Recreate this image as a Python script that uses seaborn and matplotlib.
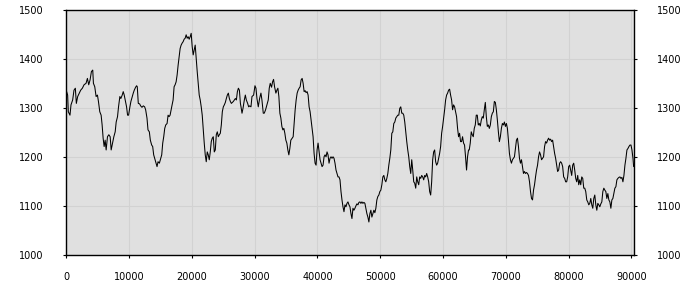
import matplotlib
matplotlib.use("Agg")
import matplotlib.pyplot as plt
import seaborn as sns
import pandas as pd

# ---- data ----
x_seg1 = [53, 213, 320, 587, 747, 1013, 1227, 1440, 1600, 1813, 2080, 2293, 2560, 2827, 3147, 3360, 3573, 3787, 4000, 4213,
          4320, 4533, 4747, 4960, 5120, 5333, 5547, 5707, 5867, 6027, 6187, 6347, 6560, 6773, 6987, 7147, 7360, 7573, 7787, 7947,
          8160, 8320, 8533, 8693, 8907, 9067, 9227, 9387, 9600, 9760, 9920, 10133, 10293, 10507, 10667, 10827, 11040, 11200, 11307, 11467,
          11680, 11840, 12053, 12267, 12480, 12640, 12853, 13013, 13227, 13387, 13600, 13760, 13920, 14080, 14293, 14453, 14613, 14827, 14987, 15200,
          15360, 15520, 15680, 15840, 16053, 16213, 16373, 16533, 16693, 16853, 17013, 17173, 17333, 17493, 17653, 17813, 17973, 18133, 18293, 18453,
          18613, 18773, 18933, 19093, 19253, 19413, 19573, 19733, 19893, 20053, 20213, 20373, 20533, 20693, 20853, 21013, 21173, 21333, 21493, 21653,
          21813, 21973, 22133, 22293, 22453, 22613, 22773, 22933, 23093, 23253, 23413, 23573, 23733, 23893, 24053, 24213, 24373, 24533, 24693, 24853,
          25013, 25173, 25333, 25493, 25653, 25813, 25973, 26133, 26293, 26453, 26613, 26773, 26933, 27093, 27253, 27413, 27573, 27733]
y_seg1 = [1334, 1327, 1293, 1286, 1307, 1317, 1337, 1341, 1310, 1324, 1331, 1337, 1341, 1348, 1351, 1361, 1348, 1358, 1375, 1378,
          1351, 1344, 1324, 1327, 1314, 1293, 1286, 1266, 1239, 1222, 1235, 1215, 1242, 1246, 1242, 1215, 1229, 1242, 1252, 1272,
          1283, 1303, 1324, 1320, 1327, 1334, 1327, 1317, 1303, 1286, 1286, 1303, 1314, 1324, 1331, 1337, 1343, 1346, 1344, 1310,
          1309, 1305, 1302, 1305, 1303, 1297, 1280, 1256, 1252, 1235, 1225, 1222, 1205, 1198, 1188, 1181, 1191, 1188, 1195, 1205,
          1229, 1242, 1259, 1266, 1269, 1286, 1283, 1286, 1297, 1307, 1317, 1344, 1348, 1354, 1368, 1388, 1405, 1422, 1429, 1433,
          1436, 1441, 1443, 1450, 1443, 1446, 1441, 1446, 1453, 1426, 1409, 1419, 1429, 1402, 1375, 1351, 1327, 1317, 1303, 1286,
          1256, 1229, 1205, 1191, 1211, 1205, 1195, 1211, 1232, 1239, 1242, 1211, 1215, 1246, 1252, 1242, 1246, 1249, 1266, 1293,
          1303, 1307, 1312, 1320, 1327, 1331, 1320, 1314, 1310, 1312, 1314, 1317, 1320, 1317, 1334, 1341, 1337, 1310]

x_seg2 = [27831, 27989, 28148, 28360, 28519, 28677, 28889, 29048, 29206, 29418,
          29577, 29841, 30053, 30212, 30370, 30582, 30794, 31005, 31164, 31376,
          31534, 31746, 31958, 32169, 32328, 32487, 32698, 32857, 33016, 33175,
          33386, 33545, 33704, 33862,
          34021, 34180, 34338, 34497, 34656, 34815, 34973, 35132, 35291, 35450, 35608, 35767,
          35979, 36138, 36297, 36455, 36614, 36773, 36931, 37090, 37249, 37408, 37566, 37725, 37884, 38042, 38201, 38360, 38519, 38677,
          38836, 38995, 39153, 39312, 39471, 39630, 39788, 39947, 40106, 40265, 40423, 40582, 40741, 40899, 41058, 41217, 41376, 41534,
          41693, 41852, 42011, 42169, 42328, 42487, 42645, 42804, 42963, 43122, 43280, 43439, 43598, 43757, 43915, 44074, 44233, 44391,
          44550, 44709, 44868, 45026, 45185, 45344, 45503, 45661, 45820, 45979, 46138, 46296, 46455, 46614, 46772, 46931, 47090, 47249,
          47407, 47566, 47725, 47884, 48042, 48201, 48360, 48519, 48677, 48836, 48995, 49153, 49312, 49471, 49630, 49788, 49947, 50106,
          50265, 50423, 50582, 50741, 50899, 51058, 51217, 51376, 51534, 51693, 51852, 52011, 52169, 52328, 52487, 52645, 52804, 52963,
          53122, 53280, 53439, 53598, 53757, 53915, 54074, 54233, 54392, 54550, 54709, 54868, 55026, 55185, 55344, 55503, 55661, 55820,
          55979, 56138, 56296, 56455, 56614, 56772, 56931, 57090, 57249, 57407, 57566, 57725, 57884, 58042, 58201, 58360, 58519, 58677,
          58836, 58995, 59153, 59312, 59471, 59630, 59788, 59947, 60106, 60265, 60423, 60582, 60741, 60899, 61058, 61217, 61376, 61534,
          61693, 61852, 62011, 62169, 62328, 62487, 62645, 62804, 62963, 63122, 63280, 63439, 63598, 63757, 63915, 64074]
y_seg2 = [1303, 1290, 1300, 1317, 1327, 1317, 1310, 1303, 1305, 1303,
          1324, 1327, 1346, 1341, 1320, 1303, 1320, 1331, 1317, 1290,
          1290, 1297, 1307, 1317, 1341, 1351, 1343, 1354, 1359, 1344,
          1331, 1337, 1341, 1324,
          1290, 1280, 1263, 1256, 1259, 1249, 1235, 1229, 1215, 1205, 1218, 1235,
          1239, 1242, 1269, 1297, 1317, 1331, 1337, 1341, 1344, 1358, 1361, 1351, 1334, 1336, 1332, 1334, 1327, 1303,
          1293, 1276, 1259, 1242, 1208, 1188, 1184, 1215, 1229, 1211, 1195, 1188, 1181, 1184, 1201, 1205, 1201, 1211,
          1205, 1188, 1198, 1201, 1198, 1201, 1198, 1188, 1174, 1167, 1160, 1160, 1154, 1130, 1113, 1099, 1089, 1103,
          1099, 1106, 1109, 1103, 1099, 1085, 1075, 1096, 1092, 1096, 1101, 1105, 1103, 1108, 1109, 1106, 1109, 1106,
          1108, 1106, 1096, 1085, 1078, 1068, 1085, 1092, 1078, 1085, 1092, 1087, 1096, 1113, 1120, 1123, 1130, 1133,
          1144, 1160, 1163, 1154, 1150, 1157, 1167, 1184, 1198, 1215, 1249, 1252, 1269, 1272, 1280, 1283, 1286, 1286,
          1300, 1303, 1290, 1290, 1286, 1272, 1252, 1232, 1215, 1201, 1181, 1167, 1195, 1174, 1150, 1147, 1137, 1160,
          1150, 1144, 1160, 1157, 1163, 1160, 1154, 1163, 1160, 1167, 1160, 1150, 1130, 1123, 1150, 1195, 1211, 1215,
          1191, 1184, 1188, 1198, 1208, 1222, 1249, 1263, 1280, 1297, 1317, 1327, 1331, 1337, 1339, 1327, 1317, 1297,
          1307, 1303, 1293, 1283, 1259, 1242, 1249, 1232, 1232, 1242, 1229, 1225, 1201, 1174, 1201, 1215]

x_seg3 = [64187, 64347, 64507, 64667, 64827, 64987, 65147, 65307, 65467, 65627, 65787, 65947, 66107, 66267, 66427, 66587, 66747, 66907,
          67067, 67227, 67387, 67547, 67707, 67867, 68027, 68187, 68347, 68507, 68667, 68827, 68987, 69147, 69307, 69467, 69627, 69787, 69947,
          70107, 70267, 70427, 70587, 70747, 70907, 71067, 71227, 71387, 71547, 71707, 71867, 72027, 72187, 72347, 72507, 72667, 72827,
          72987, 73147, 73307, 73467, 73627, 73787, 73947, 74107, 74267, 74427, 74587, 74747, 74907, 75067, 75227, 75387, 75547, 75707,
          75867, 76027, 76187, 76347, 76507, 76667, 76827, 76987, 77147, 77307, 77467, 77627, 77787, 77947, 78107, 78267, 78427, 78587,
          78747, 78907, 79067, 79227, 79387, 79547, 79707, 79867, 80027, 80187, 80347, 80507, 80667, 80827, 80987, 81147, 81307, 81467,
          81627, 81787, 81947, 82107, 82267, 82427, 82587, 82747, 82907, 83067, 83227, 83387, 83547, 83707, 83867, 84027, 84187, 84347,
          84507, 84667, 84827, 84987, 85147, 85307, 85467, 85627, 85787, 85947, 86107, 86267, 86427, 86587, 86747, 86907, 87067, 87227,
          87387, 87547, 87707, 87867, 88027, 88187, 88347, 88507, 88667, 88827, 88987, 89147, 89307, 89467, 89627, 89787, 89947, 90107,
          90267, 90373]
y_seg3 = [1215, 1229, 1252, 1246, 1242, 1259, 1266, 1286, 1286, 1266, 1269, 1264, 1276, 1283, 1280, 1297, 1312, 1283,
          1263, 1266, 1259, 1266, 1283, 1290, 1293, 1314, 1312, 1297, 1276, 1252, 1232, 1242, 1259, 1269, 1266, 1272, 1263,
          1269, 1259, 1235, 1208, 1195, 1188, 1195, 1198, 1201, 1218, 1235, 1239, 1222, 1198, 1188, 1195, 1181, 1167,
          1171, 1167, 1169, 1167, 1163, 1150, 1130, 1116, 1113, 1133, 1144, 1160, 1174, 1184, 1201, 1211, 1205, 1195,
          1198, 1201, 1222, 1232, 1229, 1235, 1239, 1235, 1237, 1232, 1235, 1222, 1208, 1198, 1184, 1171, 1174, 1188,
          1191, 1188, 1181, 1160, 1157, 1150, 1150, 1160, 1181, 1184, 1174, 1163, 1184, 1188, 1174, 1157, 1150, 1163,
          1144, 1154, 1144, 1160, 1157, 1137, 1137, 1130, 1113, 1109, 1103, 1106, 1116, 1103, 1096, 1116, 1123, 1103,
          1092, 1106, 1103, 1099, 1105, 1109, 1130, 1137, 1133, 1130, 1116, 1126, 1113, 1109, 1096, 1113, 1116, 1126,
          1137, 1140, 1154, 1157, 1159, 1160, 1157, 1159, 1150, 1163, 1184, 1198, 1215, 1218, 1222, 1225, 1225, 1215,
          1198, 1181]

x_ticks = [0, 10000, 20000, 30000, 40000, 50000, 60000, 70000, 80000, 90000]
y_ticks = [1000, 1100, 1200, 1300, 1400, 1500]

df = pd.DataFrame({
    "x": x_seg1 + x_seg2 + x_seg3,
    "y": y_seg1 + y_seg2 + y_seg3,
})

sns.set_style("whitegrid", {
    "axes.facecolor": "#e0e0e0",
    "grid.color": "#d2d2d2",
    "axes.edgecolor": "black",
})
plt.rcParams["font.family"] = ["DejaVu Sans"]

fig = plt.figure(figsize=(7, 3), dpi=100)
ax = fig.add_axes([66.3 / 700, 1 - 255.3 / 300, (634.3 - 66.3) / 700, (255.3 - 10.3) / 300])

sns.lineplot(data=df, x="x", y="y", ax=ax, color="black", linewidth=0.75,
             estimator=None, sort=False)

ax.set_xlim(0, 90480)
ax.set_ylim(1000, 1500)
ax.set_xticks(x_ticks)
ax.set_yticks(y_ticks)
ax.set_xticklabels([str(v) for v in x_ticks])
ax.set_yticklabels([str(v) for v in y_ticks])
ax.set_xlabel("")
ax.set_ylabel("")
ax.grid(True, color="#d2d2d2", linewidth=0.8)

for s in ax.spines.values():
    s.set_color("black")
    s.set_linewidth(1.0)
    s.set_visible(True)

ax.tick_params(axis="y", which="both", left=True, right=True, labelleft=True, labelright=True,
               length=2.2, width=0.8, color="black", labelsize=7, pad=14, labelcolor="black", direction="out")
ax.tick_params(axis="x", which="both", bottom=True, length=2.2, width=0.8, color="black",
               labelsize=7, pad=10, labelcolor="black", direction="out")

fig.savefig("out.png", dpi=100)
